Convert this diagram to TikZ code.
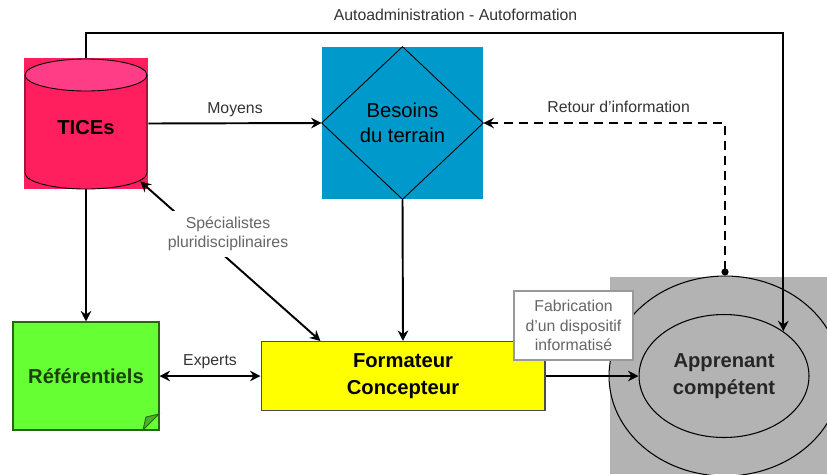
\documentclass[tikz,border=0pt]{standalone}
\usepackage{fontspec}
\setmainfont{Liberation Sans}
\usetikzlibrary{arrows.meta,shapes.geometric}

\definecolor{ticespink}{HTML}{FF1F5F}
\definecolor{ticestop}{HTML}{FF3C86}
\definecolor{besoinsblue}{HTML}{0099CC}
\definecolor{refgreen}{HTML}{66FF33}
\definecolor{formyellow}{HTML}{FFFF00}
\definecolor{apprgray}{HTML}{B3B3B3}
\definecolor{lblgray}{HTML}{333333}

\tikzset{
    lbl/.style={font=\fontsize{9}{11}\selectfont, text=lblgray, align=center},
    bigtxt/.style={font=\fontsize{11.5}{14.5}\selectfont, align=center},
    bigbold/.style={font=\fontsize{11.5}{15}\selectfont\bfseries, align=center},
    link/.style={line width=1.1pt, -{Stealth[length=6pt,width=6pt,inset=2pt]}},
    both/.style={line width=1.1pt, {Stealth[length=6pt,width=6pt,inset=2pt]}-{Stealth[length=6pt,width=6pt,inset=2pt]}},
}

\begin{document}
\begin{tikzpicture}[x=0.02cm, y=-0.02cm]
    \clip (0,0) rectangle (827,474);
    \useasboundingbox (0,0) rectangle (827,474);

    % Apprenant: grey area with two rings
    \fill[apprgray] (610,277) rectangle (827,474);
    \node[ellipse, draw, line width=0.6pt, minimum width=4.64cm, minimum height=4cm] (ring) at (725,376) {};
    \node[ellipse, draw, line width=0.6pt, bigbold, text=black!85, minimum width=3.4cm, minimum height=2.46cm] (apprenant) at (724,376) {Apprenant\\compétent};

    % TICEs = cylinder on a pink square
    \node[fill=ticespink, minimum width=2.48cm, minimum height=2.62cm, bigbold, text height=1.3em, text depth=0pt] (tices) at (86,123.5) {TICEs};
    \fill[ticestop] (86,75) ellipse [x radius=1.22cm, y radius=0.32cm];
    \draw[line width=0.5pt] (86,75) ellipse [x radius=1.22cm, y radius=0.32cm];
    \draw[line width=0.5pt] (25,75) -- (25,173) arc[start angle=180, end angle=360, x radius=1.22cm, y radius=0.32cm] -- (147,75);

    % Besoins du terrain = diamond in a blue square
    \node[fill=besoinsblue, minimum width=3.22cm, minimum height=3.04cm, bigtxt] (besoins) at (402.5,123) {Besoins\\du terrain};
    \draw[line width=0.5pt] (besoins.north) -- (besoins.east) -- (besoins.south) -- (besoins.west) -- cycle;

    % Referentiels, with a folded corner
    \node[fill=refgreen, draw=refgreen!40!black, line width=0.6pt, minimum width=2.92cm, minimum height=2.16cm, bigbold, text=refgreen!25!black] (referentiels) at (86,376) {Référentiels};
    \filldraw[fill=refgreen!70!black, draw=refgreen!40!black, line width=0.5pt] (143,430) -- (159,414) -- (146,417) -- cycle;

    % Formateur
    \node[fill=formyellow, draw=black!70, line width=0.6pt, minimum width=5.68cm, minimum height=1.38cm, bigbold] (formateur) at (403,376) {Formateur\\Concepteur};

    % connectors
    \draw[link] (tices.east) -- node[lbl, above] {Moyens} (besoins.west);
    \draw[link] (tices.north) -- ++(0,-25) -| node[lbl, above=3pt, pos=0.265] {Autoadministration - Autoformation} (apprenant.37);
    \draw[line width=1.1pt, dashed, dash pattern=on 5pt off 3.5pt, {Circle[length=4pt]}-{Stealth[length=6pt,width=6pt,inset=2pt]}] (ring.north) |- node[lbl, above=2pt, pos=0.72] {Retour d'information} (besoins.east);
    \draw[link] (tices.south) -- (referentiels.north);
    \draw[link] (besoins.south) -- (formateur.north);
    \draw[both] (referentiels.east) -- node[lbl, above] {Experts} (formateur.west);
    \draw[both] ([xshift=-0.16cm, yshift=0.16cm]tices.south east) -- ([xshift=1.2cm]formateur.north west);
    \node[lbl, fill=white, text=black!60] (specialistes) at (228,234) {Spécialistes\\pluridisciplinaires};
    \draw[link] (formateur.east) -- (apprenant.west);

    % label box over the rings
    \node[lbl, text=black!60, fill=white, draw=black!40, line width=0.6pt, minimum width=2.38cm, minimum height=1.38cm] (fabrication) at (573.5,325.5) {Fabrication\\d'un dispositif\\informatisé};
\end{tikzpicture}
\end{document}
